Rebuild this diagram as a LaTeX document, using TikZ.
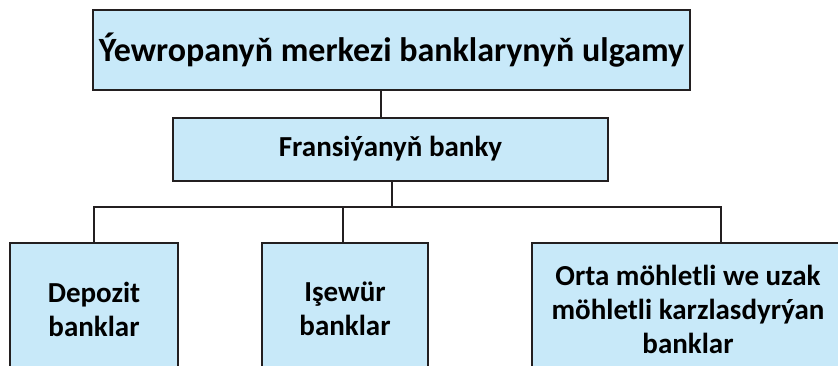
\documentclass[tikz,border=0pt]{standalone}
\usepackage{fontspec}
\setmainfont{Carlito}
\definecolor{boxblue}{RGB}{200,233,249}
\definecolor{boxline}{RGB}{35,31,32}
\def\bigtext{\bfseries\fontsize{34}{40}\selectfont}
\def\midtext{\bfseries\fontsize{29}{34}\selectfont}

\begin{document}
\begin{tikzpicture}[x=1pt, y=-1pt,
    box/.style={draw=boxline, line width=2pt, fill=boxblue,
        align=center, inner sep=0pt, font=\midtext},
    link/.style={draw=boxline, line width=1.5pt}]
    \useasboundingbox (0,0) rectangle (838,365);
    \clip (0,0) rectangle (838,365);
    % top of the tree
    \node[box, minimum width=597, minimum height=80, font=\bigtext] (ulgam) at (391.5,50) {Ýewropanyň merkezi banklarynyň ulgamy};
    \node[box, minimum width=435, minimum height=63] (fransiya) at (390.5,149) {Fransiýanyň banky};
    % bottom row
    \node[box, minimum width=168, minimum height=132] (depozit) at (94,309) {Depozit\\banklar};
    \node[box, minimum width=166, minimum height=132] (isewur) at (345,309) {Işewür\\banklar};
    \node[box, minimum width=312, minimum height=132] (karz) at (688,309) {Orta möhletli we uzak\\möhletli karzlasdyrýan\\banklar};
    % connectors
    \coordinate (bar) at (392,207);
    \draw[link] (ulgam.south -| 381,0) -- (fransiya.north -| 381,0);
    \draw[link] (fransiya.south -| bar) -- (bar);
    \draw[link] (depozit.north) -- (depozit.north |- bar) -- (721,207) -- (721,0 |- karz.north);
    \draw[link] (isewur.north -| 343,0) -- (343,207);
\end{tikzpicture}
\end{document}
